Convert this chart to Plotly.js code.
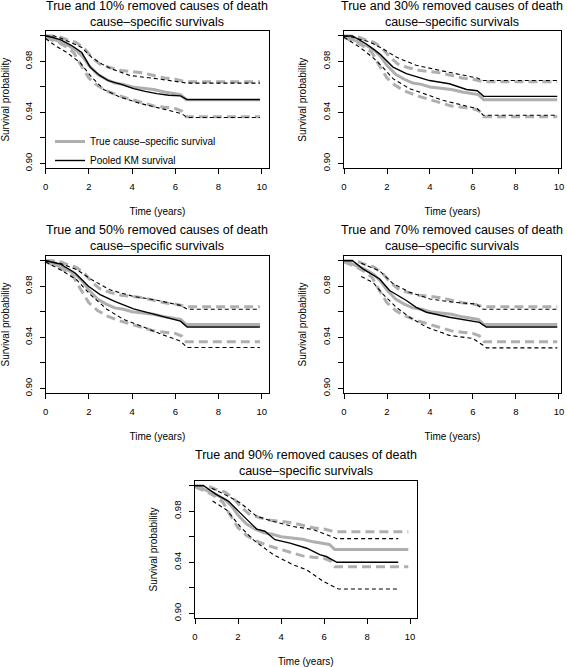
<!DOCTYPE html>
<html><head><meta charset="utf-8">
<script src="https://cdn.plot.ly/plotly-3.0.1.min.js"></script>
<style>html,body{margin:0;padding:0;background:#fff}#chart{width:567px;height:667px}</style>
</head><body><div id="chart"></div>
<script>
// ---- data ----
const panelPercents = [10, 30, 50, 70, 90];
const xTickVals = [0, 2, 4, 6, 8, 10];
const yTickVals = [0.90, 0.92, 0.94, 0.96, 0.98, 1.00];
const yTickText = ['0.90', '', '0.94', '', '0.98', ''];

// True cause-specific survival (same in every panel)
const trueTime  = [0, 0.3, 0.6, 1.0, 1.4, 1.7, 2.0, 2.4, 2.8, 3.2, 3.6, 4.0, 4.5, 5.0, 5.5, 6.0, 6.25, 6.5, 9.92];
const trueSurv  = [1.000, 0.998, 0.996, 0.993, 0.989, 0.984, 0.977, 0.970, 0.966, 0.963, 0.962, 0.960, 0.959, 0.958, 0.956, 0.955, 0.954, 0.950, 0.950];
const trueUpTime = [0, 0.3, 0.7, 1.0, 1.4, 1.8, 2.1, 2.5, 3.0, 3.5, 4.0, 4.5, 5.0, 5.5, 6.0, 6.5, 9.92];
const trueUpper  = [1.000, 1.000, 0.999, 0.997, 0.995, 0.990, 0.984, 0.978, 0.975, 0.973, 0.972, 0.971, 0.969, 0.967, 0.966, 0.964, 0.964];
const trueLoTime = [0, 0.3, 0.7, 1.0, 1.3, 1.6, 2.0, 2.4, 2.8, 3.4, 4.0, 4.5, 5.0, 5.5, 6.0, 6.3, 6.5, 9.92];
const trueLower  = [0.999, 0.997, 0.994, 0.991, 0.987, 0.978, 0.967, 0.961, 0.957, 0.953, 0.950, 0.947, 0.945, 0.944, 0.943, 0.941, 0.9365, 0.9365];

// Pooled KM survival, 10% removed
const km10Time = [0, 0.3, 0.7, 1.2, 1.67, 2.06, 2.5, 2.9, 3.5, 4.07, 4.6, 5.15, 5.7, 6.24, 6.55, 9.92];
const km10Surv = [1.0, 0.999, 0.997, 0.9925, 0.987, 0.9755, 0.969, 0.965, 0.962, 0.9586, 0.9565, 0.9547, 0.9535, 0.953, 0.950, 0.950];
const km10UpTime = [0, 0.4, 0.74, 1.13, 1.67, 2.14, 2.6, 3.0, 3.9, 5.15, 6.24, 6.55, 9.92];
const km10Upper  = [1.0, 1.0, 0.998, 0.995, 0.991, 0.983, 0.978, 0.9745, 0.969, 0.9664, 0.964, 0.963, 0.963];
const km10LoTime = [0, 0.43, 0.98, 1.6, 2.06, 2.68, 3.45, 4.38, 5.6, 6.3, 6.55, 9.92];
const km10Lower  = [0.998, 0.9925, 0.987, 0.979, 0.969, 0.958, 0.952, 0.947, 0.942, 0.939, 0.936, 0.936];

// 30% removed
const km30Time = [0, 0.4, 1.04, 1.66, 2.28, 2.9, 3.98, 4.9, 5.7, 6.2, 6.5, 9.92];
const km30Surv = [1.0, 1.0, 0.9937, 0.986, 0.9756, 0.9704, 0.965, 0.9625, 0.958, 0.957, 0.9526, 0.9526];
const km30UpTime = [0, 0.4, 1.2, 1.8, 2.43, 3.36, 4.45, 5.53, 6.2, 6.47, 9.92];
const km30Upper  = [1.0, 0.999, 0.9953, 0.990, 0.9834, 0.977, 0.973, 0.969, 0.967, 0.965, 0.965];
const km30LoTime = [0, 0.73, 1.35, 1.8, 2.28, 3.05, 3.67, 4.6, 5.85, 6.2, 6.47, 9.92];
const km30Lower  = [0.999, 0.9912, 0.983, 0.9756, 0.9665, 0.9586, 0.955, 0.9495, 0.9443, 0.943, 0.9378, 0.9378];

// 50% removed
const km50Time = [0, 0.67, 1.36, 1.98, 2.52, 3.22, 4.07, 4.85, 5.6, 6.24, 6.55, 9.92];
const km50Surv = [1.0, 0.9974, 0.9904, 0.980, 0.9735, 0.968, 0.9623, 0.959, 0.9553, 0.9526, 0.948, 0.948];
const km50UpTime = [0, 0.67, 1.44, 2.14, 3.0, 4.07, 5.15, 6.24, 6.55, 9.92];
const km50Upper  = [1.0, 0.998, 0.993, 0.985, 0.977, 0.972, 0.969, 0.965, 0.962, 0.962];
const km50LoTime = [0, 0.67, 1.44, 2.06, 2.83, 3.6, 4.38, 5.3, 6.24, 6.55, 9.92];
const km50Lower  = [0.999, 0.993, 0.985, 0.9735, 0.962, 0.954, 0.949, 0.9427, 0.937, 0.932, 0.932];

// 70% removed
const km70Time = [0, 0.4, 0.88, 1.66, 2.12, 2.9, 3.36, 3.83, 4.9, 5.85, 6.3, 6.62, 9.92];
const km70Surv = [1.0, 1.0, 0.9936, 0.9857, 0.9766, 0.9688, 0.9635, 0.9596, 0.9557, 0.953, 0.9517, 0.948, 0.948];
const km70UpTime = [0.8, 1.66, 2.28, 3.05, 4.0, 5.07, 6.15, 6.47, 9.92];
const km70Upper  = [0.998, 0.992, 0.982, 0.9753, 0.970, 0.9675, 0.966, 0.962, 0.962];
const km70LoTime = [0.8, 1.35, 1.8, 2.43, 3.05, 3.83, 4.9, 6.0, 6.47, 6.62, 9.92];
const km70Lower  = [0.9876, 0.983, 0.974, 0.9635, 0.9557, 0.948, 0.9415, 0.939, 0.9337, 0.9317, 0.9317];

// 90% removed
const km90Time = [0, 0.4, 1.0, 1.55, 2.1, 2.87, 3.25, 3.72, 4.42, 5.2, 5.8, 6.1, 6.6, 9.45];
const km90Surv = [1.0, 1.0, 0.993, 0.988, 0.9787, 0.966, 0.9643, 0.9577, 0.955, 0.951, 0.946, 0.9445, 0.940, 0.940];
const km90UpTime = [0.78, 1.4, 2.1, 2.87, 3.64, 4.57, 5.5, 6.1, 6.6, 9.45];
const km90Upper  = [0.998, 0.993, 0.9866, 0.976, 0.972, 0.968, 0.9656, 0.9616, 0.9585, 0.9585];
const km90LoTime = [0.82, 1.47, 2.1, 2.7, 3.64, 4.57, 5.2, 5.97, 6.43, 6.67, 9.45];
const km90Lower  = [0.988, 0.981, 0.968, 0.9577, 0.946, 0.938, 0.934, 0.925, 0.921, 0.919, 0.919];

const kmSets = [
  [km10Time, km10Surv, km10UpTime, km10Upper, km10LoTime, km10Lower],
  [km30Time, km30Surv, km30UpTime, km30Upper, km30LoTime, km30Lower],
  [km50Time, km50Surv, km50UpTime, km50Upper, km50LoTime, km50Lower],
  [km70Time, km70Surv, km70UpTime, km70Upper, km70LoTime, km70Lower],
  [km90Time, km90Surv, km90UpTime, km90Upper, km90LoTime, km90Lower]
];

// ---- layout geometry ----
const W = 567, H = 667;
const FONT = 'Liberation Sans, Arial, Helvetica, sans-serif';
const GRAY = '#afafaf';
const panels = [
  {x0: 45.7, x1: 269.0, top: 30.9, bot: 168.4, xmax: 10.34},
  {x0: 344.0, x1: 560.7, top: 30.9, bot: 168.4, xmax: 10.08},
  {x0: 45.7, x1: 269.0, top: 255.6, bot: 393.4, xmax: 10.34},
  {x0: 344.0, x1: 560.7, top: 255.6, bot: 393.4, xmax: 10.08},
  {x0: 195.0, x1: 416.5, top: 480.6, bot: 618.4, xmax: 10.30}
];
const titleMid = [13.5, 13.5, 237.5, 237.5, 463];

const traces = [];
const layout = {
  width: W, height: H,
  margin: {l: 0, r: 0, t: 0, b: 0},
  paper_bgcolor: '#fff', plot_bgcolor: '#fff',
  font: {family: FONT, color: '#000', size: 10},
  showlegend: true,
  legend: {x: 50 / W, y: 1 - 127 / H, xanchor: 'left', yanchor: 'top',
           bgcolor: 'rgba(0,0,0,0)', font: {size: 10, family: FONT}, itemwidth: 30},
  annotations: []
};

panels.forEach((p, i) => {
  const sfx = i === 0 ? '' : String(i + 1);
  const xa = 'x' + sfx, ya = 'y' + sfx;
  const first = i === 0;
  const set = kmSets[i];
  // true curves (gray, behind)
  traces.push({x: trueTime, y: trueSurv, xaxis: xa, yaxis: ya, mode: 'lines',
    name: 'True cause\u2013specific survival', showlegend: first,
    line: {color: GRAY, width: 3}, hoverinfo: 'skip'});
  traces.push({x: trueUpTime, y: trueUpper, xaxis: xa, yaxis: ya, mode: 'lines', showlegend: false,
    line: {color: GRAY, width: 3, dash: '9px,5px'}, hoverinfo: 'skip'});
  traces.push({x: trueLoTime, y: trueLower, xaxis: xa, yaxis: ya, mode: 'lines', showlegend: false,
    line: {color: GRAY, width: 3, dash: '9px,5px'}, hoverinfo: 'skip'});
  // pooled KM (black)
  traces.push({x: set[0], y: set[1], xaxis: xa, yaxis: ya, mode: 'lines',
    name: 'Pooled KM survival', showlegend: first,
    line: {color: '#000', width: 1.4}, hoverinfo: 'skip'});
  traces.push({x: set[2], y: set[3], xaxis: xa, yaxis: ya, mode: 'lines', showlegend: false,
    line: {color: '#000', width: 1.1, dash: '4px,3px'}, hoverinfo: 'skip'});
  traces.push({x: set[4], y: set[5], xaxis: xa, yaxis: ya, mode: 'lines', showlegend: false,
    line: {color: '#000', width: 1.1, dash: '4px,3px'}, hoverinfo: 'skip'});

  const common = {showline: true, mirror: true, linecolor: '#000', linewidth: 1,
    ticks: 'outside', ticklen: 5, tickwidth: 1, tickcolor: '#000',
    showgrid: false, zeroline: false, fixedrange: true,
    tickfont: {size: 9.5, family: FONT, color: '#000'}};
  layout['xaxis' + sfx] = Object.assign({}, common, {
    domain: [p.x0 / W, p.x1 / W], anchor: ya, range: [0, p.xmax],
    tickmode: 'array', tickvals: xTickVals, ticklabelstandoff: 4,
    title: {text: 'Time (years)', font: {size: 10, family: FONT}, standoff: 17}
  });
  layout['yaxis' + sfx] = Object.assign({}, common, {
    domain: [1 - p.bot / H, 1 - p.top / H], anchor: xa, range: [0.896, 1.004],
    tickmode: 'array', tickvals: yTickVals, ticktext: yTickText, tickangle: -90,
    ticklabelstandoff: 4,
    title: {text: 'Survival probability', font: {size: 10, family: FONT}, standoff: 12}
  });
  layout.annotations.push({
    xref: 'paper', yref: 'paper', x: (p.x0 + p.x1) / 2 / W, y: 1 - titleMid[i] / H,
    xanchor: 'center', yanchor: 'middle', showarrow: false,
    text: 'True and ' + panelPercents[i] + '% removed causes of death<br>cause\u2013specific survivals',
    font: {size: 12.5, family: FONT, color: '#000'}
  });
});

Plotly.newPlot('chart', traces, layout, {staticPlot: true, displayModeBar: false});
</script>
</body></html>
